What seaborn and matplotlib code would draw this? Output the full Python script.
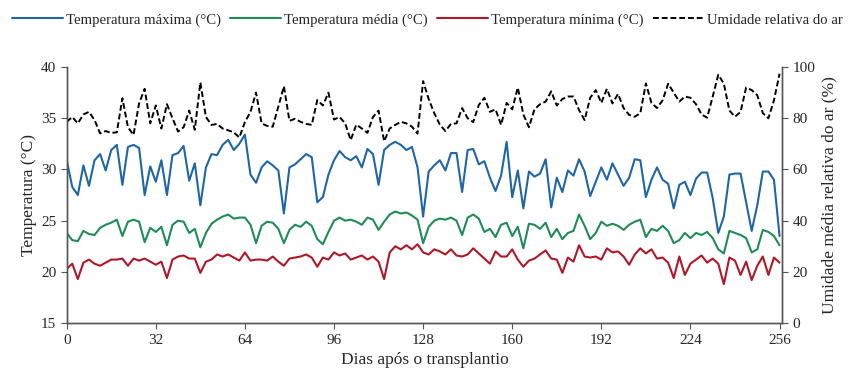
import numpy as np
import pandas as pd
import matplotlib
matplotlib.use("Agg")
import matplotlib.pyplot as plt
import seaborn as sns

# dias após o transplantio (leitura a cada 2 dias)
dias = list(range(0, 257, 2))

temp_max = [30.9, 28.3, 27.5, 30.4, 28.4, 30.9, 31.5, 29.9, 31.9, 32.4,
            28.5, 32.2, 32.4, 32.1, 27.5, 30.3, 28.8, 30.9, 27.5, 31.4,
            31.6, 32.3, 28.9, 30.6, 26.5, 30.2, 31.5, 31.4, 32.4, 32.9,
            31.9, 32.5, 33.4, 29.5, 28.7, 30.2, 30.8, 30.4, 29.9, 25.7,
            30.2, 30.5, 31.0, 31.5, 31.2, 26.8, 27.3, 29.5, 30.9, 31.8,
            31.2, 30.9, 31.3, 30.2, 32.0, 31.5, 28.5, 31.9, 32.4, 32.7,
            32.4, 31.9, 32.2, 30.2, 25.4, 29.8, 30.4, 30.9, 29.9, 31.6,
            31.6, 27.8, 31.9, 32.0, 30.5, 30.8, 29.2, 27.9, 29.4, 32.7,
            27.3, 29.9, 26.2, 29.8, 29.3, 29.6, 31.0, 26.3, 29.2, 27.8,
            29.9, 29.4, 31.0, 29.8, 27.4, 28.8, 30.2, 29.0, 30.6, 29.5,
            28.4, 29.2, 31.0, 30.9, 27.3, 29.0, 30.2, 29.0, 28.6, 26.2,
            28.5, 28.8, 27.5, 29.1, 29.7, 29.7, 27.2, 23.8, 25.4, 29.5,
            29.6, 29.6, 26.8, 24.0, 26.5, 29.8, 29.8, 29.0, 23.5]

temp_media = [23.8, 23.1, 23.0, 24.0, 23.7, 23.6, 24.3, 24.6, 24.8, 25.1,
              23.5, 24.9, 25.1, 24.9, 22.9, 24.3, 23.9, 24.4, 22.6, 24.6,
              25.0, 24.9, 23.8, 24.2, 22.4, 23.8, 24.7, 25.1, 25.4, 25.6,
              25.2, 25.3, 25.3, 24.6, 22.8, 24.5, 24.9, 24.8, 24.2, 22.8,
              24.1, 24.6, 24.4, 24.9, 24.5, 23.2, 22.7, 23.9, 25.0, 25.3,
              25.0, 25.1, 24.9, 24.6, 25.3, 25.1, 24.1, 24.9, 25.6, 25.9,
              25.7, 25.8, 25.5, 25.1, 22.8, 24.4, 25.0, 25.2, 25.1, 25.3,
              25.0, 23.6, 25.3, 25.6, 25.2, 23.9, 24.2, 23.4, 24.6, 24.8,
              23.5, 24.4, 22.3, 24.7, 24.6, 24.2, 24.8, 23.4, 24.2, 23.2,
              23.8, 24.0, 25.6, 24.5, 23.2, 23.8, 24.9, 24.5, 24.7, 24.5,
              24.1, 24.6, 24.9, 25.1, 23.4, 24.2, 24.0, 24.5, 24.0, 22.8,
              23.1, 23.8, 23.3, 23.8, 23.6, 23.9, 23.3, 22.2, 21.8, 24.0,
              23.8, 23.6, 23.3, 21.9, 22.2, 24.1, 23.9, 23.5, 22.6]

temp_min = [20.3, 20.8, 19.3, 20.9, 21.2, 20.8, 20.6, 20.9, 21.2, 21.2,
            21.3, 20.6, 21.3, 21.1, 21.3, 21.0, 20.7, 21.0, 19.4, 21.2,
            21.5, 21.6, 21.3, 21.3, 19.9, 21.0, 21.2, 21.7, 21.5, 21.7,
            21.4, 21.1, 21.9, 21.1, 21.2, 21.2, 21.1, 21.5, 21.0, 20.6,
            21.3, 21.4, 21.5, 21.7, 21.4, 20.5, 21.4, 21.2, 21.9, 21.6,
            21.8, 21.2, 21.4, 21.6, 21.2, 21.5, 21.0, 19.3, 21.9, 22.5,
            22.2, 22.6, 22.2, 22.7, 21.9, 21.7, 22.2, 22.0, 21.7, 22.2,
            21.6, 21.5, 21.7, 22.3, 21.8, 21.3, 20.8, 22.0, 21.5, 21.5,
            22.2, 21.2, 20.5, 21.1, 21.3, 21.7, 22.1, 21.3, 21.2, 19.9,
            21.4, 21.0, 22.6, 21.5, 21.4, 21.5, 21.2, 22.3, 21.9, 22.0,
            21.5, 20.7, 21.7, 22.3, 21.8, 22.2, 21.3, 21.4, 20.9, 19.4,
            21.5, 19.7, 20.8, 21.2, 21.6, 20.9, 21.3, 20.8, 18.8, 21.4,
            21.1, 19.7, 21.0, 19.2, 20.6, 21.5, 19.7, 21.4, 20.9]

umidade = [78.6, 80.5, 78.0, 81.5, 82.5, 79.3, 74.1, 75.0, 74.3, 74.5,
           87.8, 76.5, 73.5, 85.8, 91.5, 78.0, 85.0, 76.0, 85.5, 80.0,
           74.8, 76.5, 83.0, 75.5, 94.0, 80.5, 77.4, 77.8, 76.0, 75.3,
           74.5, 72.5, 78.5, 82.5, 90.0, 78.0, 77.0, 76.7, 84.5, 92.5,
           79.0, 79.8, 78.6, 77.8, 77.4, 87.1, 85.0, 90.0, 79.5, 80.5,
           78.0, 71.5, 77.5, 76.0, 74.3, 80.5, 83.0, 71.0, 76.0, 77.4,
           78.6, 78.0, 76.7, 74.0, 94.5, 87.5, 82.0, 77.5, 75.0, 77.8,
           78.0, 84.0, 80.0, 78.5, 85.2, 88.0, 82.5, 83.5, 77.4, 86.0,
           83.5, 92.0, 81.5, 76.5, 83.5, 85.5, 86.5, 90.5, 85.0, 87.5,
           88.5, 88.5, 83.2, 79.3, 88.0, 91.0, 86.0, 91.5, 85.8, 89.5,
           84.0, 81.3, 80.6, 82.0, 93.6, 86.0, 84.0, 87.0, 93.5, 90.0,
           86.5, 88.5, 88.0, 85.5, 81.5, 80.2, 88.5, 97.0, 93.5, 83.0,
           80.6, 82.5, 92.0, 91.0, 89.0, 82.0, 80.0, 87.0, 97.4]

sns.set_style("ticks")
plt.rcParams["font.family"] = ["Liberation Serif", "DejaVu Serif"]

fig = plt.figure(figsize=(8.55, 3.81), dpi=100)
ax = fig.add_axes([0.078, 0.152, 0.837, 0.672])

sns.lineplot(x=dias, y=temp_max, ax=ax, color="#1f66a8", lw=1.5,
             label="Temperatura máxima (°C)")
sns.lineplot(x=dias, y=temp_media, ax=ax, color="#1f8c58", lw=1.5,
             label="Temperatura média (°C)")
sns.lineplot(x=dias, y=temp_min, ax=ax, color="#b0182a", lw=1.5,
             label="Temperatura mínima (°C)")

ax2 = ax.twinx()
sns.lineplot(x=dias, y=umidade, ax=ax2, color="black", lw=1.4,
             linestyle=(0, (3, 1.5)), label="Umidade relativa do ar")

ax.set_xlim(0, 257)
ax.set_ylim(15, 40)
ax2.set_ylim(0, 100)
ax.set_xticks(range(0, 257, 32))
ax.set_yticks(range(15, 41, 5))
ax2.set_yticks(range(0, 101, 20))

ax.set_xlabel("Dias após o transplantio", fontsize=12.5)
ax.set_ylabel("Temperatura (°C)", fontsize=12.5, labelpad=3)
ax2.set_ylabel("Umidade média relativa do ar (%)", fontsize=12.5)
ax.tick_params(labelsize=11, length=4, color="#555555")
ax2.tick_params(labelsize=11, length=4, color="#555555")

for a in (ax, ax2):
    a.spines["top"].set_visible(False)
    for s in a.spines.values():
        s.set_color("#555555")
        s.set_linewidth(1.0)
ax2.spines["right"].set_visible(True)

h1, l1 = ax.get_legend_handles_labels()
h2, l2 = ax2.get_legend_handles_labels()
ax.get_legend().remove()
ax2.get_legend().remove()
fig.legend(h1 + h2, l1 + l2, loc="upper left", bbox_to_anchor=(-0.002, 1.0),
           ncol=4, frameon=False, fontsize=10.6, handlelength=3.5,
           handletextpad=0.2, columnspacing=0.6)

fig.savefig("out.png", dpi=100)
